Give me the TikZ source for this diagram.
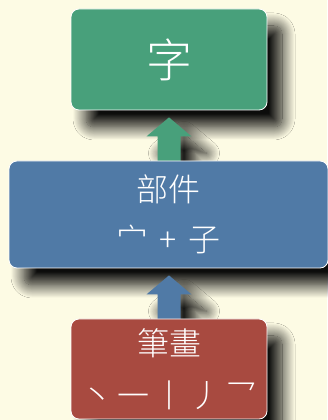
\documentclass[tikz,border=0pt]{standalone}
\usepackage{fontspec}
\newfontfamily\cjk{Noto Sans CJK TC}[UprightFont=* Light]
\usetikzlibrary{shadows.blur,calc}
\definecolor{bg}{RGB}{253,251,228}
\definecolor{boxgreen}{RGB}{72,160,123}
\definecolor{boxblue}{RGB}{80,122,166}
\definecolor{boxred}{RGB}{168,74,64}
\definecolor{shadowc}{RGB}{70,66,58}
\begin{document}
\begin{tikzpicture}[x=1pt,y=1pt,
  boxshadow/.style={blur shadow={shadow xshift=15pt, shadow yshift=-17pt, shadow blur radius=13pt, shadow opacity=95, shadow blur steps=18, fill=shadowc}},
  cbox/.style={rounded corners=8pt, draw=white, line width=0.8pt, inner sep=0pt, text=white, align=center, boxshadow},
  uparrow/.style={boxshadow}
]
\useasboundingbox (0,0) rectangle (327,420);
\fill[bg] (0,0) rectangle (327,420);

\node[cbox, fill=boxgreen, minimum width=196, minimum height=101,
      font=\fontsize{46}{50}\selectfont\cjk] (zi) at (169,360.5) {字};
\path[uparrow, fill=boxgreen] ($(zi.south)+(-11.5,-53)$) -- ++(0,27) -- ++(-11,0) -- ++(22.5,19) -- ++(22.5,-19) -- ++(-11,0) -- ++(0,-27) -- cycle;

\node[cbox, fill=boxblue, minimum width=319, minimum height=107,
      font=\fontsize{32}{50}\selectfont\cjk] (bujian) at (168.5,205.5) {部件\\宀\hspace{11pt}+\hspace{11pt}子};
\path[uparrow, fill=boxblue] ($(bujian.south)+(0.5,0)+(-11.5,-53)$) -- ++(0,27) -- ++(-11,0) -- ++(22.5,19) -- ++(22.5,-19) -- ++(-11,0) -- ++(0,-27) -- cycle;

\node[cbox, fill=boxred, minimum width=196, minimum height=100,
      font=\fontsize{32}{52}\selectfont\cjk] (bihua) at (169,51) {筆畫\\丶\hspace{4pt}一\hspace{4pt}丨\hspace{4pt}丿\hspace{4pt}乛};
\end{tikzpicture}
\end{document}
